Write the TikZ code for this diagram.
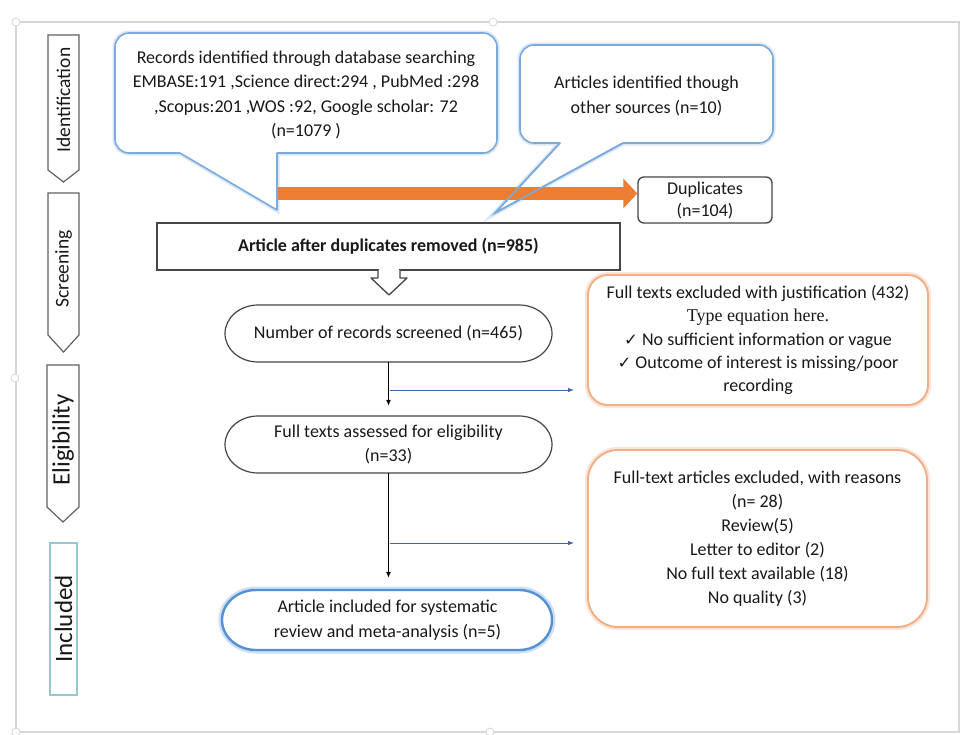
\documentclass[tikz,border=0pt]{standalone}
\usepackage{fontspec}
\setmainfont{Carlito}
\newfontfamily\dejavu{DejaVu Sans}
\newfontfamily\serifcam{Liberation Serif}
\usetikzlibrary{arrows.meta}
\definecolor{txtc}{RGB}{25,25,25}
\definecolor{calblue}{RGB}{125,170,220}
\definecolor{calglow}{RGB}{218,232,246}
\definecolor{orgline}{RGB}{242,175,135}
\definecolor{orgglow}{RGB}{251,228,214}
\definecolor{incblue}{RGB}{85,145,210}
\definecolor{incglow}{RGB}{205,224,246}
\definecolor{arrorange}{RGB}{237,125,49}
\definecolor{grayline}{RGB}{70,70,70}
\definecolor{connblue}{RGB}{68,100,170}
\definecolor{framec}{RGB}{215,215,215}
\definecolor{tealbox}{RGB}{150,200,210}
\newcommand\chk{{\dejavu\fontsize{16.5}{16.5}\selectfont ✓}}
\begin{document}
\begin{tikzpicture}[x=1pt,y=-1pt,
  tx/.style={font=\fontsize{18}{24.5}\selectfont, align=center, text=txtc, inner sep=0pt},
  calloutline/.style={draw=calblue, line width=1.6pt, line join=round, preaction={draw=calglow, line width=5pt}},
  graybox/.style={tx, draw=grayline, line width=1.3pt, fill=white},
  orgbox/.style={tx, draw=orgline, line width=1.9pt, fill=white, preaction={draw=orgglow, line width=6pt}},
  ovalline/.style={draw=grayline, line width=1.2pt, fill=white},
  incline/.style={draw=incblue, line width=2.4pt, fill=white, preaction={draw=incglow, line width=7pt}},
  phase/.style={draw=grayline!85, line width=1.2pt, fill=white},
  phasetxt/.style={text=txtc, inner sep=0pt, rotate=90},
  blk/.style={draw=black, line width=1.1pt, -{Latex[length=6pt,width=5pt]}},
  bconn/.style={draw=connblue, line width=1pt, -{Latex[length=6pt,width=4.5pt]}},
]
\useasboundingbox (0,0) rectangle (964,734);
\fill[white] (0,0) rectangle (964,734);
% frame and handles
\draw[framec, line width=1.2pt] (16,22) rectangle (959,732);
\foreach \p in {(16,22),(493,22),(15,378),(16,732),(490,732)}
  \draw[framec, fill=white, line width=0.8pt] \p circle[radius=4pt];

% phase labels
\draw[phase] (48,35) -- (79,35) -- (79,170) -- (63.5,182) -- (48,170) -- cycle;
\node[phasetxt, font=\fontsize{19.5}{20}\selectfont] (pid) at (63.5,100) {Identification};
\draw[phase] (48,193) -- (79,193) -- (79,335) -- (63.5,352) -- (48,335) -- cycle;
\node[phasetxt, font=\fontsize{19.5}{20}\selectfont] (pscr) at (63.5,269) {Screening};
\draw[phase] (47,365) -- (79,365) -- (79,507) -- (63,522) -- (47,507) -- cycle;
\node[phasetxt, font=\fontsize{25}{26}\selectfont] (pel) at (63,440) {Eligibility};
\draw[draw=tealbox, line width=1.1pt, fill=white] (50,543) rectangle (77,695);
\node[phasetxt, font=\fontsize{25}{26}\selectfont] (pinc) at (63.5,619) {Included};

% callout 1
\draw[calloutline, fill=white] (277,153) -- (483,153)
  arc[start angle=270,end angle=360,radius=14pt] -- (497,47)
  arc[start angle=0,end angle=90,radius=14pt] -- (129,33)
  arc[start angle=90,end angle=180,radius=14pt] -- (115,139)
  arc[start angle=180,end angle=270,radius=14pt] -- (180,153) -- (277,210) -- cycle;
\node[tx] (c1) at (306,95) {Records identified through database searching\\EMBASE:191 ,Science direct:294 , PubMed :298\\,Scopus:201 ,WOS :92, Google scholar: 72\\(n=1079 )};

% callout 2
\draw[calloutline, fill=white] (623,143) -- (759,143)
  arc[start angle=270,end angle=360,radius=14pt] -- (773,59)
  arc[start angle=0,end angle=90,radius=14pt] -- (534,45)
  arc[start angle=90,end angle=180,radius=14pt] -- (520,129)
  arc[start angle=180,end angle=270,radius=14pt] -- (560,143) -- (495,213) -- cycle;
\node[tx] (c2) at (646.5,96) {Articles identified though\\other sources (n=10)};

% duplicates
\node[graybox, rounded corners=6pt, minimum width=134pt, minimum height=46pt,
      font=\fontsize{18}{22}\selectfont] (dup) at (705,200) {Duplicates\\(n=104)};

% orange arrow
\coordinate (oa) at (278,193.5);
\draw[arrorange, line width=13pt, -{Triangle[length=14pt,width=29pt]}] (oa) -- (oa -| dup.west);
\draw[calblue, line width=1.6pt] (560,143) -- (495,213) -- (623,143);

% article after duplicates removed
\node[graybox, minimum width=463pt, minimum height=47pt, font=\bfseries\fontsize{18}{22}\selectfont] (art) at (388.5,246.5) {Article after duplicates removed (n=985)};
\fill[white] (378.6,268) rectangle (399.4,272);
\draw[grayline, line width=1.3pt, fill=white, line join=round]
  (378,270) -- (378,278) -- (371,278) -- (389,295) -- (407,278) -- (400,278) -- (400,270);

% screened oval
\draw[ovalline] (258,305) -- (519,305) arc[start angle=90,end angle=-90,x radius=33pt,y radius=28.5pt]
  -- (258,362) arc[start angle=270,end angle=90,x radius=33pt,y radius=28.5pt] -- cycle;
\node[tx, minimum width=327pt, minimum height=57pt] (scr) at (388.5,333.5) {Number of records screened (n=465)};

% eligibility oval
\draw[ovalline] (258,416) -- (519,416) arc[start angle=90,end angle=-90,x radius=33pt,y radius=28.5pt]
  -- (258,473) arc[start angle=270,end angle=90,x radius=33pt,y radius=28.5pt] -- cycle;
\node[tx, minimum width=327pt, minimum height=57pt] (elig) at (388.5,444.5) {Full texts assessed for eligibility\\(n=33)};

% included oval
\draw[incline] (256,590) -- (519,590) arc[start angle=90,end angle=-90,x radius=33pt,y radius=30pt]
  -- (256,650) arc[start angle=270,end angle=90,x radius=34pt,y radius=30pt] -- cycle;
\node[tx, minimum width=330pt, minimum height=60pt] (inc) at (387.5,620) {Article included for systematic\\review and meta-analysis (n=5)};

% exclusion boxes
\node[orgbox, rounded corners=20pt, minimum width=340pt, minimum height=130pt,
      font=\fontsize{18}{23.3}\selectfont] (ex1) at (758,340)
  {Full texts excluded with justification (432)\\{\serifcam Type equation here.}\\\chk{} No sufficient information or vague\\\chk{} Outcome of interest is missing/poor\\recording};
\node[orgbox, rounded corners=30pt, minimum width=339pt, minimum height=177pt,
      font=\fontsize{18}{24}\selectfont] (ex2) at (757.5,538.5)
  {Full-text articles excluded, with reasons\\(n= 28)\\Review(5)\\Letter to editor (2)\\No full text available (18)\\No quality (3)};

% connectors
\draw[blk, shorten >=10pt] (scr.south) -- (elig.north);
\draw[blk, shorten >=12pt] (elig.south) -- (elig.south |- inc.north);
\coordinate (br1) at (389.5,390);
\coordinate (br2) at (389.5,543);
\draw[bconn, shorten >=13pt] (br1) -- (br1 -| ex1.west);
\draw[bconn, shorten >=13pt] (br2) -- (br2 -| ex2.west);
\end{tikzpicture}
\end{document}
